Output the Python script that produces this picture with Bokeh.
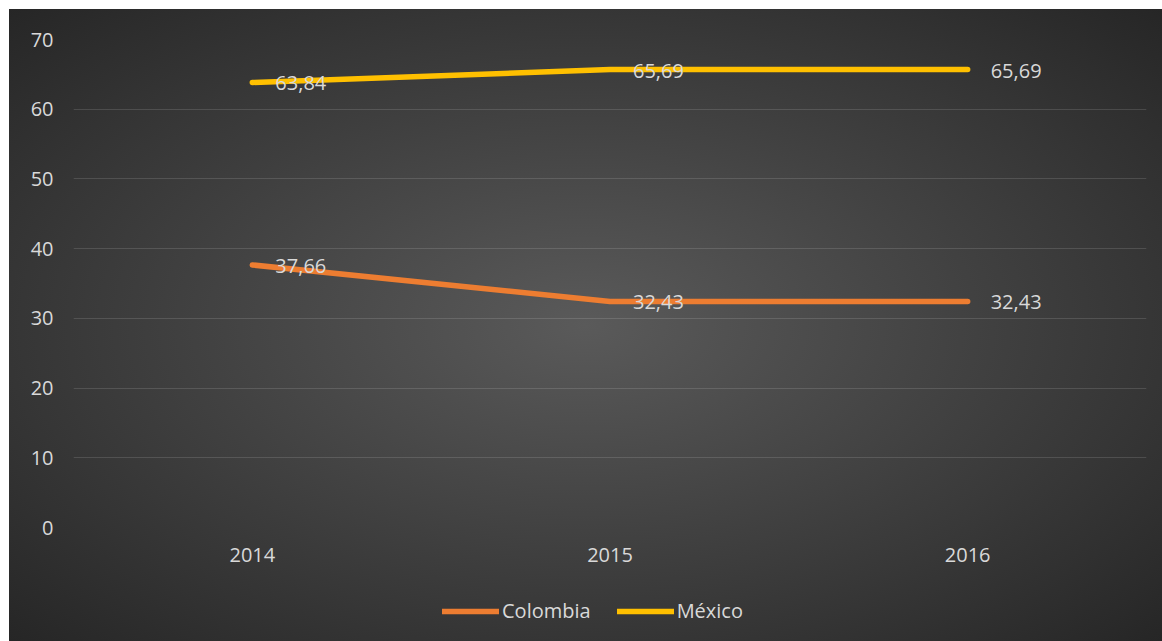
from bokeh.plotting import figure
from bokeh.layouts import column
from bokeh.models import Range1d, Legend, LegendItem, FixedTicker
from bokeh.core.properties import value
from bokeh.embed import file_html
from bokeh.resources import INLINE

years = ["2014", "2015", "2016"]
colombia = [37.66, 32.43, 32.43]
mexico = [63.84, 65.69, 65.69]
y_ticks = [0, 10, 20, 30, 40, 50, 60, 70]
series_names = ["Colombia", "México"]
series_colors = ["#ED7D31", "#FFC000"]

def fmt(v):
    return f"{v:.2f}".replace(".", ",")

FONT = "Open Sans"
TXT = "#d9d9d9"
LW = 5.5

p = figure(width=1153, height=566, x_range=years, y_range=Range1d(0, 70),
           output_backend="svg", toolbar_location=None,
           min_border_left=64, min_border_right=16, min_border_top=30, min_border_bottom=48)
p.background_fill_alpha = 0
p.border_fill_alpha = 0
p.outline_line_color = None

p.xgrid.grid_line_color = None
p.ygrid.grid_line_color = "#ffffff"
p.ygrid.grid_line_alpha = 0.13
p.ygrid.grid_line_width = 1
p.yaxis.ticker = FixedTicker(ticks=y_ticks)

for ax in (p.xaxis[0], p.yaxis[0]):
    ax.axis_line_color = None
    ax.major_tick_line_color = None
    ax.minor_tick_line_color = None
    ax.major_tick_out = 0
    ax.major_tick_in = 0
    ax.major_label_text_font = FONT
    ax.major_label_text_font_size = "20px"
    ax.major_label_text_color = TXT
    ax.major_label_standoff = 20

for vals, col in zip((colombia, mexico), series_colors):
    p.line(years, vals, line_color=col, line_width=LW, line_cap="round", line_join="round")

for vals in (colombia, mexico):
    p.text(x=years, y=vals, text=[fmt(v) for v in vals], x_offset=23, y_offset=1,
           text_align="left", text_baseline="middle", text_color=TXT,
           text_font=value(FONT), text_font_size="20px")

# legend strip below the chart
lg = figure(width=1153, height=66, x_range=Range1d(0, 1), y_range=Range1d(0, 1),
            output_backend="svg", toolbar_location=None,
            x_axis_location=None, y_axis_location=None,
            min_border_left=64, min_border_right=16, min_border_top=0, min_border_bottom=0)
lg.background_fill_alpha = 0
lg.border_fill_alpha = 0
lg.outline_line_color = None
lg.xgrid.grid_line_color = None
lg.ygrid.grid_line_color = None

items = []
for name, col in zip(series_names, series_colors):
    r = lg.line([float("nan")], [float("nan")], line_color=col, line_width=LW, line_cap="round")
    items.append(LegendItem(label=name, renderers=[r]))

legend = Legend(items=items, orientation="horizontal", location=(369, 17))
legend.background_fill_alpha = 0
legend.border_line_alpha = 0
legend.label_text_font = FONT
legend.label_text_font_size = "20px"
legend.label_text_color = TXT
legend.glyph_width = 57
legend.label_standoff = 3
legend.spacing = 26
legend.margin = 0
legend.padding = 0
lg.add_layout(legend)

layout = column(p, lg, spacing=0,
                styles={"background": "radial-gradient(ellipse at center, #5a5a5a 0%, #262626 100%)",
                        "margin-left": "9px", "margin-top": "9px"})

open("out.html", "w").write(file_html(layout, INLINE))
